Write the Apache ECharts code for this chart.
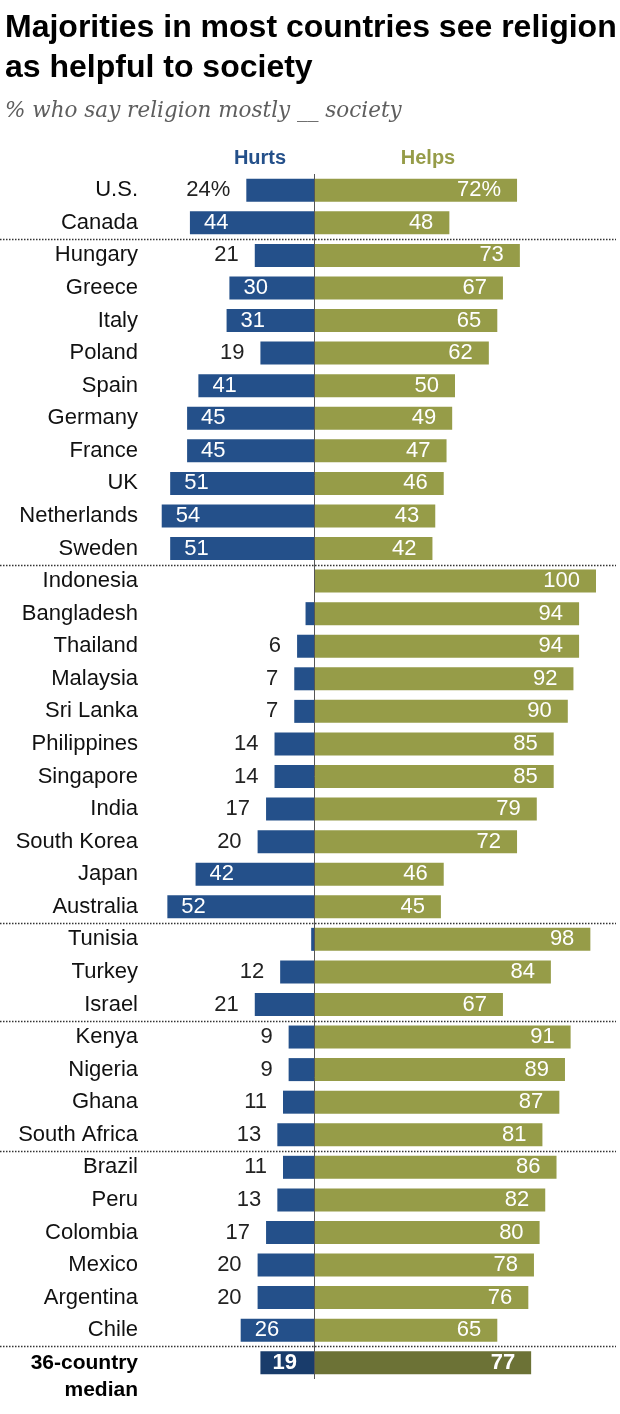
<!DOCTYPE html>
<html>
<head>
<meta charset="utf-8">
<script src="https://cdn.jsdelivr.net/npm/echarts@6/dist/echarts.min.js"></script>
<style>
  html, body { margin: 0; padding: 0; background: #fff; }
  #chartdiv { width: 620px; height: 1414px; }
</style>
</head>
<body>
<div id="chartdiv"></div>
<script>
var countries = ['U.S.', 'Canada', 'Hungary', 'Greece', 'Italy', 'Poland', 'Spain', 'Germany', 'France', 'UK',
    'Netherlands', 'Sweden', 'Indonesia', 'Bangladesh', 'Thailand', 'Malaysia', 'Sri Lanka', 'Philippines',
    'Singapore', 'India', 'South Korea', 'Japan', 'Australia', 'Tunisia', 'Turkey', 'Israel', 'Kenya',
    'Nigeria', 'Ghana', 'South Africa', 'Brazil', 'Peru', 'Colombia', 'Mexico', 'Argentina', 'Chile',
    '36-country median'];
var hurts = [24, 44, 21, 30, 31, 19, 41, 45, 45, 51, 54, 51, 0, 3, 6, 7, 7, 14, 14, 17, 20, 42, 52,
    1, 12, 21, 9, 9, 11, 13, 11, 13, 17, 20, 20, 26, 19];
var helps = [72, 48, 73, 67, 65, 62, 50, 49, 47, 46, 43, 42, 100, 94, 94, 92, 90, 85, 85, 79, 72, 46, 45,
    98, 84, 67, 91, 89, 87, 81, 86, 82, 80, 78, 76, 65, 77];
// rows after which a dotted divider is drawn
var groupEnds = [1, 11, 22, 25, 29, 35];

var BLUE = '#24508a';
var OLIVE = '#969c48';
var BLUE_MED = '#193c6b';
var OLIVE_MED = '#6c7236';
var FONT = 'Liberation Sans, Arial, sans-serif';

var medianIdx = countries.length - 1;

function hurts_data() {
    var arr = [];
    for (var i = 0; i < hurts.length; i++) {
        var v = hurts[i];
        var item = {value: -v, label: {}};
        if (i === medianIdx) {
            item.itemStyle = {color: BLUE_MED};
            item.label = {position: 'insideLeft', distance: 12, color: '#fff', fontWeight: 'bold'};
        } else if (v < 5) {
            item.label = {show: false};
        } else if (v >= 26) {
            item.label = {position: 'insideLeft', distance: 14, color: '#fff'};
        } else {
            item.label = {position: 'left', distance: 16, color: '#222'};
        }
        arr.push(item);
    }
    return arr;
}

function helps_data() {
    var arr = [];
    for (var i = 0; i < helps.length; i++) {
        var item = {value: helps[i]};
        if (i === medianIdx) {
            item.itemStyle = {color: OLIVE_MED};
            item.label = {fontWeight: 'bold'};
        }
        arr.push(item);
    }
    return arr;
}

function pct_fmt(p) {
    var s = Math.abs(p.value);
    return p.dataIndex === 0 ? s + '%' : String(s);
}

var dom = document.getElementById('chartdiv');
var myChart = echarts.init(dom);

var option = {
    backgroundColor: '#fff',
    animation: false,
    title: [
        {
            text: 'Majorities in most countries see religion\nas helpful to society',
            left: 5, top: 8, padding: 0,
            textStyle: {fontFamily: FONT, fontWeight: 'bold', fontSize: 32, lineHeight: 40, color: '#000'}
        },
        {
            text: '% who say religion mostly __ society',
            left: 5, top: 100, padding: 0,
            textStyle: {fontFamily: 'DejaVu Serif, serif', fontStyle: 'italic', fontWeight: 'normal', fontSize: 21.5, color: '#5e5e5e'}
        },
        {
            text: 'Hurts', left: 260, top: 148, textAlign: 'center', padding: 0,
            textStyle: {fontFamily: FONT, fontWeight: 'bold', fontSize: 20, color: BLUE}
        },
        {
            text: 'Helps', left: 428, top: 148, textAlign: 'center', padding: 0,
            textStyle: {fontFamily: FONT, fontWeight: 'bold', fontSize: 20, color: OLIVE}
        }
    ],
    grid: {
        left: 32,   // x=-100
        right: 24,  // x=100
        top: 174,
        height: 1205
    },
    xAxis: {
        type: 'value',
        min: -100,
        max: 100,
        show: false
    },
    yAxis: {
        type: 'category',
        inverse: true,
        data: countries,
        axisLine: {show: false},
        axisTick: {show: false},
        splitLine: {show: false},
        axisLabel: {
            interval: 0,
            showMinLabel: true,
            showMaxLabel: true,
            hideOverlap: false,
            margin: -106,
            align: 'right',
            fontFamily: FONT,
            fontSize: 22,
            color: '#111',
            formatter: function (value) {
                if (value.indexOf('median') >= 0) {
                    return '{e| }\n{b|36-country}\n{b|median}';
                }
                return value;
            },
            rich: {
                e: {fontSize: 21, lineHeight: 27},
                b: {fontFamily: FONT, fontSize: 21, fontWeight: 'bold', lineHeight: 27, color: '#000', align: 'right'}
            }
        }
    },
    series: [
        {
            name: 'Hurts',
            type: 'bar',
            stack: 'x',
            barWidth: 23,
            itemStyle: {color: BLUE},
            label: {show: true, fontFamily: FONT, fontSize: 22, formatter: pct_fmt},
            data: hurts_data()
        },
        {
            name: 'Helps',
            type: 'bar',
            stack: 'x',
            barWidth: 23,
            itemStyle: {color: OLIVE},
            label: {
                show: true, position: 'insideRight', distance: 16,
                fontFamily: FONT, fontSize: 22, color: '#fff', formatter: pct_fmt
            },
            data: helps_data(),
            markLine: {
                silent: true,
                symbol: 'none',
                label: {show: false},
                lineStyle: {color: '#555', width: 1, type: 'solid'},
                data: [{xAxis: 0}]
            }
        }
    ]
};

myChart.setOption(option);

// dotted dividers between the regional groups, placed halfway between rows
function draw_dividers() {
    var lines = [];
    for (var i = 0; i < groupEnds.length; i++) {
        var k = groupEnds[i];
        var y1 = myChart.convertToPixel({yAxisIndex: 0}, k);
        var y2 = myChart.convertToPixel({yAxisIndex: 0}, k + 1);
        var y = Math.round((y1 + y2) / 2) + 0.5;
        lines.push({
            type: 'line',
            shape: {x1: 0, y1: y, x2: 616, y2: y},
            style: {stroke: '#333', lineWidth: 1.5, lineDash: [1.5, 1.5]},
            z: 10,
            silent: true
        });
    }
    myChart.setOption({graphic: lines});
}
draw_dividers();
</script>
</body>
</html>
